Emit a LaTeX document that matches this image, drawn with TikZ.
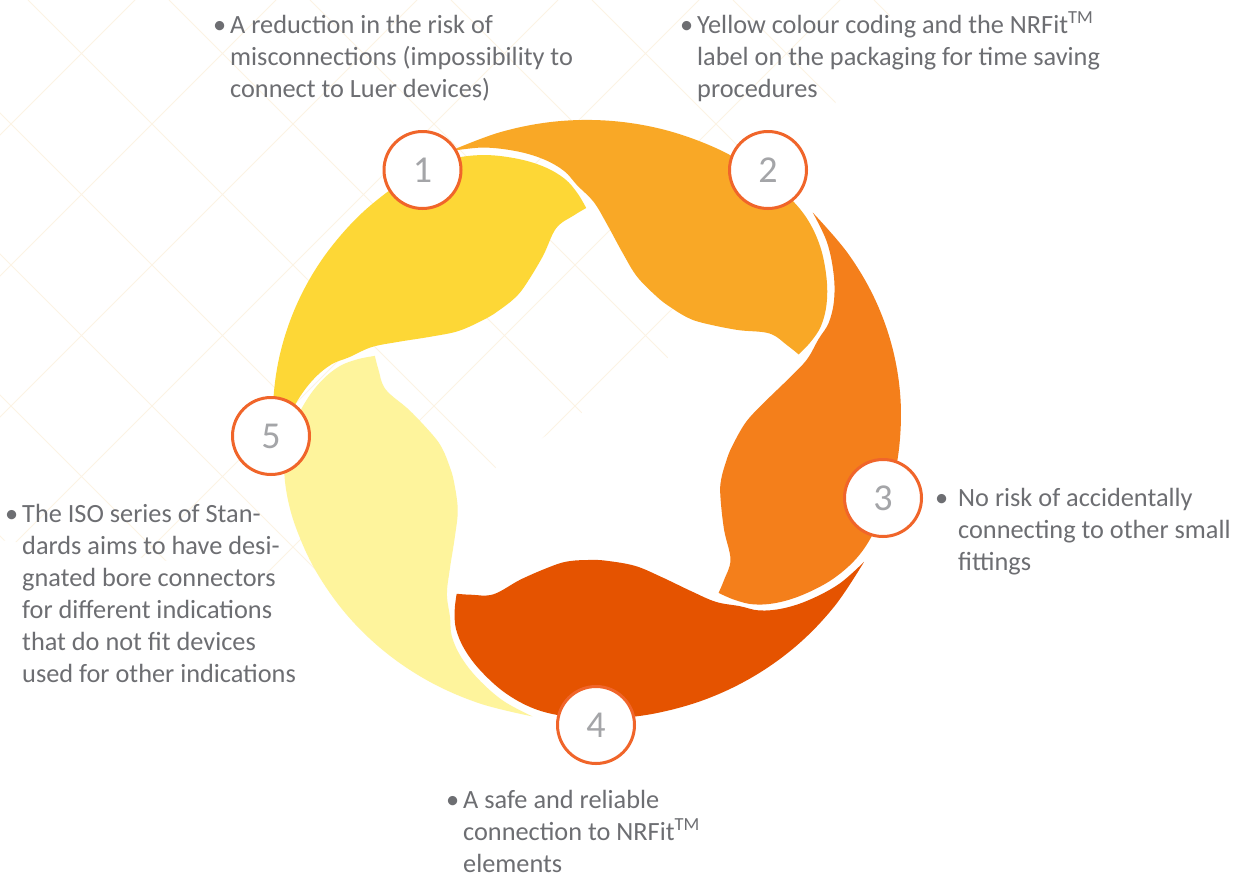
\documentclass[tikz,border=0pt]{standalone}
\usepackage{fontspec}
\setmainfont{Carlito}
\definecolor{segA}{HTML}{FDD736}
\definecolor{segB}{HTML}{F9A826}
\definecolor{segC}{HTML}{F47F1B}
\definecolor{segD}{HTML}{E55300}
\definecolor{segE}{HTML}{FEF49C}
\definecolor{ringc}{HTML}{F0652A}
\definecolor{numgray}{HTML}{A4A5A8}
\definecolor{txtgray}{HTML}{6D6E72}
\definecolor{gridc}{HTML}{FCF3E4}
\tikzset{
  numc/.style={circle, draw=ringc, line width=3pt, fill=white, minimum size=77pt, inner sep=0pt,
    text=numgray, font=\fontsize{38}{38}\selectfont},
  txt/.style={anchor=base west, align=left, inner sep=0pt, text=txtgray,
    font=\fontsize{26.3}{32}\selectfont},
  gridline/.style={draw=gridc, line width=0.8pt}
}
\newcommand{\bul}{\llap{•\hspace{4pt}}}
\begin{document}
\begin{tikzpicture}[x=1pt,y=-1pt]
\useasboundingbox (0,0) rectangle (1244,878);
\fill[white] (0,0) rectangle (1244,878);
% faint background pattern
\begin{scope}
\clip (0,0) -- (900,0) -- (680,350) -- (320,580) -- (0,540) -- cycle;
\foreach \c in {-959,-818,...,900} { \path[gridline] (\c,0) -- ++(878,878); }
\foreach \c in {-6,135,...,1600} { \path[gridline] (\c,0) -- ++(-878,878); }
\end{scope}
% ring of five petals
\begin{scope}[shift={(587,421)}, yscale=-1, xscale=1.046]
\foreach \col/\rot in {segA/-72, segB/0, segC/72, segD/144, segE/216} {
  \fill[\col, rotate=\rot]
    plot[smooth, tension=0.6] coordinates {(116:300) (106:300.5) (96:301) (86:301) (76:300.5) (66:299.5) (57:298) (50:296) (44:292) (38:283) (32:270) (27:257) (23:243) (20.3:228) (18.2:213)}
    -- plot[smooth, tension=0.6] coordinates {(18.2:213) (21.5:206) (26.7:195) (32.4:170) (41.5:148) (47.4:141) (55.2:139) (61.6:141) (71.6:152) (78.4:171) (84.5:198) (88.3:219) (92.3:236) (95:251) (99:265) (104:278) (110:291) (116:300)}
    -- cycle;
}
\end{scope}
% numbered circles
\node[numc] (n1) at (422.5,170) {1};
\node[numc] (n2) at (768,170) {2};
\node[numc] (n3) at (883,498) {3};
\node[numc] (n4) at (596,725) {4};
\node[numc] (n5) at (271,436) {5};
% texts (anchored at the baseline of the last line)
\node[txt] (t1) at (230,97) {\bul A reduction in the risk of\\misconnections (impossibility to\\connect to Luer devices)};
\node[txt] (t2) at (697,97) {\bul Yellow colour coding and the NRFit\textsuperscript{TM}\\label on the packaging for time saving\\procedures};
\node[txt] (t3) at (958,570) {\llap{•\hspace{10pt}}No risk of accidentally\\connecting to other small\\fittings};
\node[txt] (t4) at (463,872) {\bul A safe and reliable\\connection to NRFit\textsuperscript{TM}\\elements};
\node[txt] (t5) at (22,682) {\bul The ISO series of Stan-\\dards aims to have desi-\\gnated bore connectors\\for different indications\\that do not fit devices\\used for other indications};
\end{tikzpicture}
\end{document}
